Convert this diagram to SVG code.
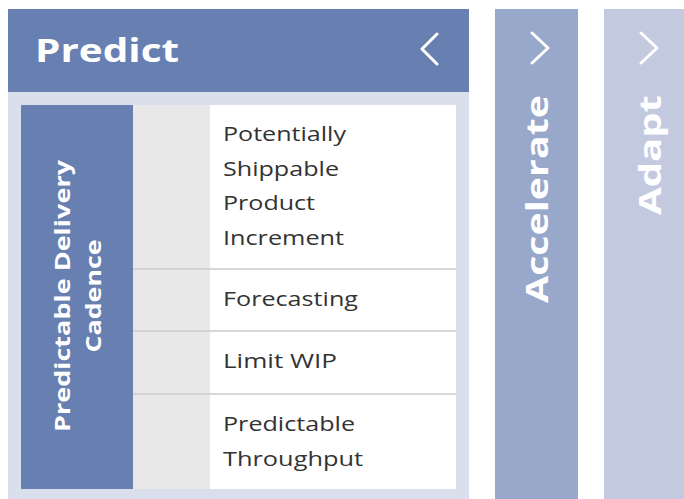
<svg xmlns="http://www.w3.org/2000/svg" width="684" height="499" viewBox="0 0 684 499">
<style>
.hdr{font-family:"Open Sans","DejaVu Sans",sans-serif;font-weight:700;fill:#ffffff}
.item{font-family:"Open Sans","DejaVu Sans",sans-serif;font-size:20px;fill:#333333}
.chev{fill:none;stroke:#ffffff;stroke-width:3;stroke-linecap:round;stroke-linejoin:round}
.sep{stroke:#cccccc;stroke-width:1.5}
</style>
<rect width="684" height="499" fill="#ffffff"/>
<g id="predict">
<rect x="8" y="9" width="461" height="490" fill="#d9dfeb"/>
<rect x="8" y="9" width="461" height="83" fill="#6880b1"/>
<text class="hdr" x="35" y="62" font-size="32" textLength="144" lengthAdjust="spacingAndGlyphs">Predict</text>
<polyline class="chev" points="437,34 422,49 437,64"/>
</g>
<g id="cadence">
<rect x="21" y="105" width="112" height="384" fill="#6880b1"/>
<text class="hdr" font-size="21" text-anchor="middle" transform="translate(70,296) rotate(-90)" textLength="272" lengthAdjust="spacingAndGlyphs">Predictable Delivery</text>
<text class="hdr" font-size="21" text-anchor="middle" transform="translate(101,296) rotate(-90)" textLength="113" lengthAdjust="spacingAndGlyphs">Cadence</text>
</g>
<g id="items">
<rect x="133" y="105" width="77" height="384" fill="#e8e8e8"/>
<rect x="210" y="105" width="246" height="384" fill="#ffffff"/>
<line class="sep" x1="133" y1="269" x2="456" y2="269"/>
<line class="sep" x1="133" y1="331" x2="456" y2="331"/>
<line class="sep" x1="133" y1="394" x2="456" y2="394"/>
<text class="item" x="223" y="141" textLength="123" lengthAdjust="spacingAndGlyphs">Potentially</text>
<text class="item" x="223" y="176" textLength="116" lengthAdjust="spacingAndGlyphs">Shippable</text>
<text class="item" x="223" y="210" textLength="92" lengthAdjust="spacingAndGlyphs">Product</text>
<text class="item" x="223" y="245" textLength="121" lengthAdjust="spacingAndGlyphs">Increment</text>
<text class="item" x="223" y="306" textLength="135" lengthAdjust="spacingAndGlyphs">Forecasting</text>
<text class="item" x="223" y="368" textLength="114" lengthAdjust="spacingAndGlyphs">Limit WIP</text>
<text class="item" x="223" y="431" textLength="132" lengthAdjust="spacingAndGlyphs">Predictable</text>
<text class="item" x="223" y="466" textLength="140" lengthAdjust="spacingAndGlyphs">Throughput</text>
</g>
<g id="accelerate">
<rect x="495" y="9" width="83" height="490" fill="#98a8cb"/>
<polyline class="chev" points="532,33 548,48 532,63"/>
<text class="hdr" font-size="30" text-anchor="middle" transform="translate(548,199) rotate(-90)" textLength="208" lengthAdjust="spacingAndGlyphs">Accelerate</text>
</g>
<g id="adapt">
<rect x="604" y="9" width="80" height="490" fill="#c3c9df"/>
<polyline class="chev" points="641,33 657,48 641,63"/>
<text class="hdr" font-size="30" text-anchor="middle" transform="translate(661,155) rotate(-90)" textLength="120" lengthAdjust="spacingAndGlyphs">Adapt</text>
</g>
</svg>
